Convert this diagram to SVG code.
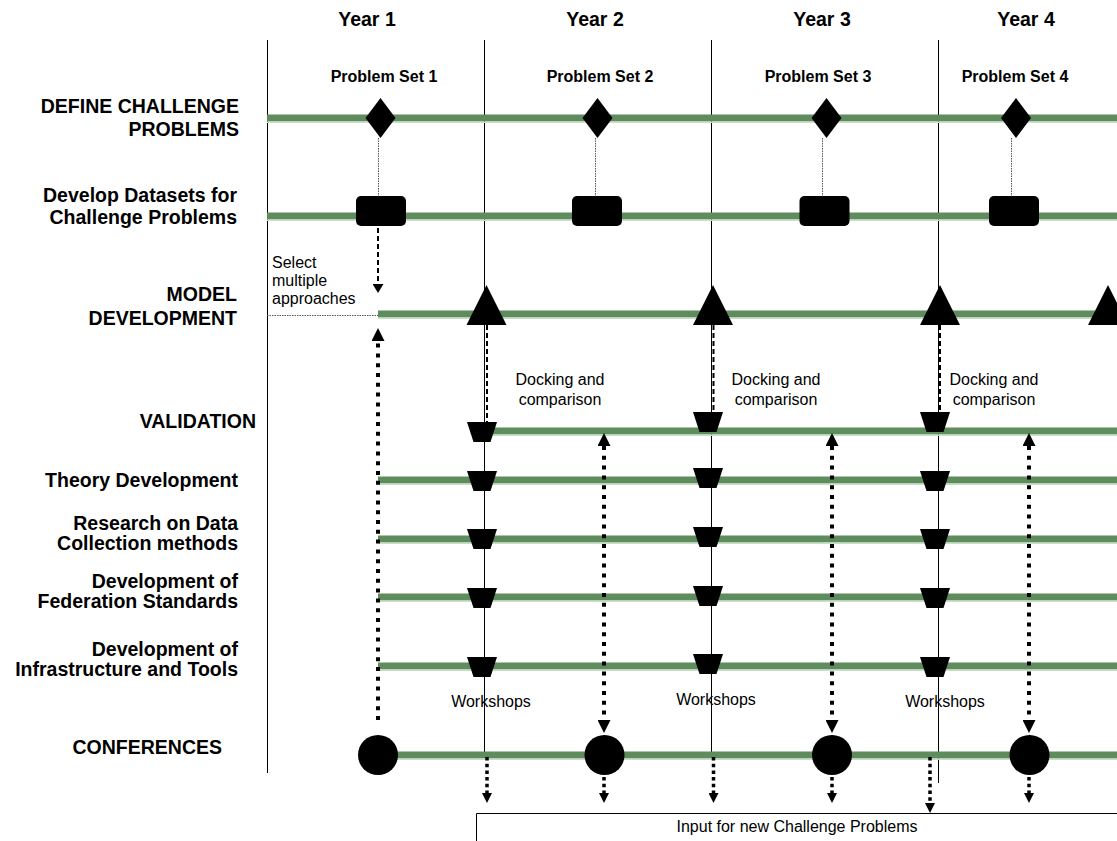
<svg xmlns="http://www.w3.org/2000/svg" width="1117" height="841" viewBox="0 0 1117 841">
  <style>
    .lbl { font-family: "Liberation Sans", Arial, sans-serif; font-weight: bold; font-size: 19.5px; fill: #000; text-anchor: end; }
    .yr { font-family: "Liberation Sans", Arial, sans-serif; font-weight: bold; font-size: 19.5px; fill: #000; text-anchor: middle; }
    .ps { font-family: "Liberation Sans", Arial, sans-serif; font-weight: bold; font-size: 16px; fill: #000; text-anchor: middle; }
    .note { font-family: "Liberation Sans", Arial, sans-serif; font-size: 16px; fill: #000; }
    .mid { text-anchor: middle; }
    .bar { fill: #5e8c5d; }
    .barEdge { fill: #c9dec8; }
    .grid { stroke: #000; stroke-width: 1; fill: none; }
    .thinDot { stroke: #555; stroke-width: 1; stroke-dasharray: 1.5 1; fill: none; }
    .dash { stroke: #000; stroke-width: 2; stroke-dasharray: 5 3; fill: none; }
    .dots { stroke: #000; stroke-width: 4; stroke-dasharray: 4 5.8; fill: none; }
    .dotsSm { stroke: #000; stroke-width: 3.5; stroke-dasharray: 3.5 3.2; fill: none; }
    .shape { fill: #000; }
  </style>
  <defs>
    <marker id="headBig" markerUnits="userSpaceOnUse" markerWidth="13" markerHeight="13" viewBox="0 0 13 13" refX="0" refY="6.5" orient="auto-start-reverse">
      <path d="M0,0 L13,6.5 L0,13 Z" fill="#000"/>
    </marker>
    <marker id="headSmall" markerUnits="userSpaceOnUse" markerWidth="10" markerHeight="10" viewBox="0 0 10 10" refX="0" refY="5" orient="auto">
      <path d="M0,0 L10,5 L0,10 Z" fill="#000"/>
    </marker>
    <marker id="headDash" markerUnits="userSpaceOnUse" markerWidth="9" markerHeight="11" viewBox="0 0 9 11" refX="0" refY="5.5" orient="auto">
      <path d="M0,0 L9,5.5 L0,11 Z" fill="#000"/>
    </marker>
    <path id="trap" d="M-15,0 L15,0 L8.5,20 L-8.5,20 Z"/>
    <path id="diamond" d="M0,-20 L15,0 L0,20 L-15,0 Z"/>
    <path id="tri" d="M0,0 L20,40 L-20,40 Z"/>
    <rect id="block" x="-25" y="0" width="50" height="30" rx="5" ry="5"/>
  </defs>

  <rect x="0" y="0" width="1117" height="841" fill="#fff"/>

  <!-- year columns -->
  <g id="years">
    <text class="yr" x="367" y="26">Year 1</text>
    <text class="yr" x="595" y="26">Year 2</text>
    <text class="yr" x="822" y="26">Year 3</text>
    <text class="yr" x="1026" y="26">Year 4</text>
    <line class="grid" x1="267.5" y1="40" x2="267.5" y2="773"/>
    <line class="grid" x1="484.5" y1="40" x2="484.5" y2="756"/>
    <line class="grid" x1="711.5" y1="40" x2="711.5" y2="756"/>
    <line class="grid" x1="938.5" y1="40" x2="938.5" y2="783"/>
  </g>

  <!-- swim lanes: label + bar -->
  <g id="lane-define">
    <text class="lbl" x="239" y="113">DEFINE CHALLENGE</text>
    <text class="lbl" x="239" y="136">PROBLEMS</text>
    <rect class="bar" x="267" y="114.5" width="850" height="7"/>
    <rect class="barEdge" x="267" y="121.5" width="850" height="1.5"/>
  </g>
  <g id="lane-datasets">
    <text class="lbl" x="237" y="202">Develop Datasets for</text>
    <text class="lbl" x="237" y="224">Challenge Problems</text>
    <rect class="bar" x="267" y="212.5" width="850" height="7"/>
    <rect class="barEdge" x="267" y="219.5" width="850" height="1.5"/>
  </g>
  <g id="lane-model">
    <text class="lbl" x="237" y="301">MODEL</text>
    <text class="lbl" x="237" y="325">DEVELOPMENT</text>
    <rect class="bar" x="378" y="310.5" width="739" height="7"/>
    <rect class="barEdge" x="378" y="317.5" width="739" height="1.5"/>
  </g>
  <g id="lane-validation">
    <text class="lbl" x="256" y="428">VALIDATION</text>
    <rect class="bar" x="484" y="427.5" width="633" height="7"/>
    <rect class="barEdge" x="484" y="434.5" width="633" height="1.5"/>
  </g>
  <g id="lane-theory">
    <text class="lbl" x="238" y="487">Theory Development</text>
    <rect class="bar" x="378" y="476.5" width="739" height="7"/>
    <rect class="barEdge" x="378" y="483.5" width="739" height="1.5"/>
  </g>
  <g id="lane-research">
    <text class="lbl" x="238" y="530">Research on Data</text>
    <text class="lbl" x="238" y="550">Collection methods</text>
    <rect class="bar" x="378" y="535.5" width="739" height="7"/>
    <rect class="barEdge" x="378" y="542.5" width="739" height="1.5"/>
  </g>
  <g id="lane-federation">
    <text class="lbl" x="238" y="588">Development of</text>
    <text class="lbl" x="238" y="608">Federation Standards</text>
    <rect class="bar" x="378" y="593.5" width="739" height="7"/>
    <rect class="barEdge" x="378" y="600.5" width="739" height="1.5"/>
  </g>
  <g id="lane-infrastructure">
    <text class="lbl" x="238" y="656">Development of</text>
    <text class="lbl" x="238" y="676">Infrastructure and Tools</text>
    <rect class="bar" x="378" y="662.5" width="739" height="7"/>
    <rect class="barEdge" x="378" y="669.5" width="739" height="1.5"/>
  </g>
  <g id="lane-conferences">
    <text class="lbl" x="222" y="754">CONFERENCES</text>
    <rect class="bar" x="378" y="751.5" width="739" height="7"/>
    <rect class="barEdge" x="378" y="758.5" width="739" height="1.5"/>
  </g>

  <!-- connectors -->
  <g id="connectors">
    <!-- problem definition to dataset -->
    <line class="thinDot" x1="378.5" y1="138" x2="378.5" y2="197"/>
    <line class="thinDot" x1="595.5" y1="138" x2="595.5" y2="197"/>
    <line class="thinDot" x1="822.5" y1="138" x2="822.5" y2="197"/>
    <line class="thinDot" x1="1011.5" y1="138" x2="1011.5" y2="197"/>
    <!-- dataset to model start -->
    <line class="dash" x1="378" y1="228" x2="378" y2="284" marker-end="url(#headDash)"/>
    <line class="thinDot" x1="267" y1="315.5" x2="378" y2="315.5"/>
    <!-- model releases to validation -->
    <line class="dash" x1="487" y1="325" x2="487" y2="422"/>
    <line class="dash" x1="713.5" y1="325" x2="713.5" y2="412"/>
    <line class="dash" x1="940" y1="325" x2="940" y2="412"/>
    <!-- conference feedback -->
    <line class="dots" x1="378" y1="720" x2="378" y2="341" marker-end="url(#headBig)"/>
    <line class="dots" x1="604" y1="446" x2="604" y2="720" marker-start="url(#headBig)" marker-end="url(#headBig)"/>
    <line class="dots" x1="832" y1="446" x2="832" y2="720" marker-start="url(#headBig)" marker-end="url(#headBig)"/>
    <line class="dots" x1="1029" y1="446" x2="1029" y2="720" marker-start="url(#headBig)" marker-end="url(#headBig)"/>
    <!-- outputs to new challenge problems -->
    <line class="dotsSm" x1="487" y1="757" x2="487" y2="793" marker-end="url(#headSmall)"/>
    <line class="dotsSm" x1="604" y1="777" x2="604" y2="793" marker-end="url(#headSmall)"/>
    <line class="dotsSm" x1="713.5" y1="757" x2="713.5" y2="793" marker-end="url(#headSmall)"/>
    <line class="dotsSm" x1="832" y1="777" x2="832" y2="793" marker-end="url(#headSmall)"/>
    <line class="dotsSm" x1="930" y1="757" x2="930" y2="803" marker-end="url(#headSmall)"/>
    <line class="dotsSm" x1="1029" y1="777" x2="1029" y2="793" marker-end="url(#headSmall)"/>
  </g>

  <!-- challenge problem milestones -->
  <g id="problem-sets">
    <text class="ps" x="384" y="82">Problem Set 1</text>
    <text class="ps" x="600" y="82">Problem Set 2</text>
    <text class="ps" x="818" y="82">Problem Set 3</text>
    <text class="ps" x="1015" y="82">Problem Set 4</text>
    <use href="#diamond" class="shape" x="380.5" y="118"/>
    <use href="#diamond" class="shape" x="597.5" y="118"/>
    <use href="#diamond" class="shape" x="826.5" y="118"/>
    <use href="#diamond" class="shape" x="1016" y="118"/>
  </g>

  <!-- dataset deliveries -->
  <g id="datasets">
    <use href="#block" class="shape" x="381" y="196"/>
    <use href="#block" class="shape" x="597" y="196"/>
    <use href="#block" class="shape" x="824.5" y="196"/>
    <use href="#block" class="shape" x="1014" y="196"/>
  </g>

  <!-- model releases -->
  <g id="model-releases">
    <use href="#tri" class="shape" x="486.5" y="285"/>
    <use href="#tri" class="shape" x="713" y="285"/>
    <use href="#tri" class="shape" x="940" y="285"/>
    <use href="#tri" class="shape" x="1108" y="285"/>
  </g>

  <!-- annotations -->
  <g id="notes">
    <text class="note" x="272" y="268">Select</text>
    <text class="note" x="272" y="286">multiple</text>
    <text class="note" x="272" y="304">approaches</text>
    <text class="note mid" x="560" y="385">Docking and</text>
    <text class="note mid" x="560" y="405">comparison</text>
    <text class="note mid" x="776" y="385">Docking and</text>
    <text class="note mid" x="776" y="405">comparison</text>
    <text class="note mid" x="994" y="385">Docking and</text>
    <text class="note mid" x="994" y="405">comparison</text>
    <text class="note mid" x="491" y="707">Workshops</text>
    <text class="note mid" x="716" y="705">Workshops</text>
    <text class="note mid" x="945" y="707">Workshops</text>
  </g>

  <!-- workshop checkpoints -->
  <g id="workshops-1">
    <use href="#trap" class="shape" x="482" y="422"/>
    <use href="#trap" class="shape" x="482" y="471"/>
    <use href="#trap" class="shape" x="482" y="529"/>
    <use href="#trap" class="shape" x="482" y="588"/>
    <use href="#trap" class="shape" x="482" y="657"/>
  </g>
  <g id="workshops-2">
    <use href="#trap" class="shape" x="708" y="412"/>
    <use href="#trap" class="shape" x="708" y="468"/>
    <use href="#trap" class="shape" x="708" y="527"/>
    <use href="#trap" class="shape" x="708" y="586"/>
    <use href="#trap" class="shape" x="708" y="654"/>
  </g>
  <g id="workshops-3">
    <use href="#trap" class="shape" x="935" y="412"/>
    <use href="#trap" class="shape" x="935" y="471"/>
    <use href="#trap" class="shape" x="935" y="529"/>
    <use href="#trap" class="shape" x="935" y="588"/>
    <use href="#trap" class="shape" x="935" y="657"/>
  </g>

  <!-- conferences -->
  <g id="conferences">
    <circle class="shape" cx="378" cy="755" r="20"/>
    <circle class="shape" cx="604.5" cy="755" r="20"/>
    <circle class="shape" cx="832" cy="755" r="20"/>
    <circle class="shape" cx="1029.5" cy="755" r="20"/>
  </g>

  <!-- output box -->
  <g id="new-problems">
    <path d="M476.5,841 L476.5,813.5 L1117,813.5" class="grid"/>
    <text class="note mid" x="797" y="832">Input for new Challenge Problems</text>
  </g>
</svg>
